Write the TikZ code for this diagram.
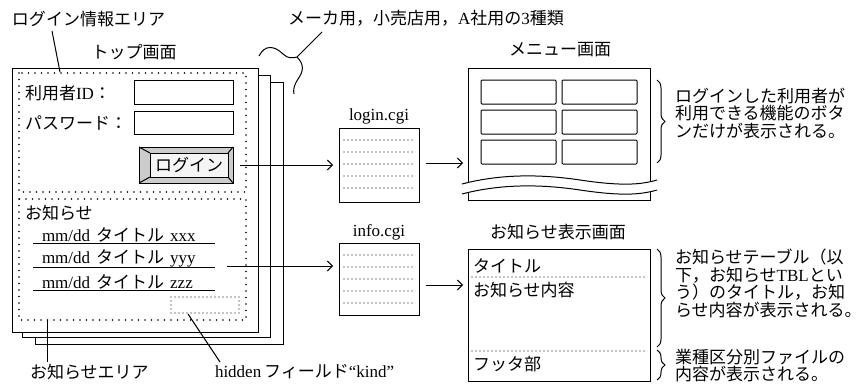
\documentclass[tikz,border=0pt]{standalone}
\usepackage{fontspec}
\setmainfont{Liberation Serif}
\newfontfamily\jpfam{Noto Sans CJK JP}
\usetikzlibrary{arrows.meta,decorations.pathreplacing,calc}
\newcommand\jpf{\fontsize{17}{17.5}\selectfont\jpfam}
\newcommand\latf{\fontsize{17}{17.5}\selectfont\rmfamily}
\begin{document}
\begin{tikzpicture}[x=1pt,y=-1pt,line width=1pt,
  every node/.style={inner sep=0pt,outer sep=0pt},
  jtxt/.style={font=\jpf,anchor=west},
  ctxt/.style={font=\jpf},
  ltxt/.style={font=\latf},
  framebox/.style={draw,line width=1pt,anchor=north west},
  pagebox/.style={framebox,fill=white},
  menubtn/.style={framebox,rounded corners=1pt,minimum width=75pt,minimum height=24pt},
  areadots/.style={line width=1.7pt,line cap=round,dash pattern=on 0pt off 6.5pt},
  finedots/.style={line width=1.4pt,line cap=round,dash pattern=on 0pt off 4pt},
  arr/.style={-{Straight Barb[length=5pt,width=10pt]},line width=1pt},
  bracestyle/.style={decorate,decoration={brace,amplitude=8pt},line width=1pt},
]
\useasboundingbox (0,0) rectangle (861,388);

% ---- stacked top pages
\node[pagebox,minimum width=248pt,minimum height=262pt] (page3) at (35,82) {};
\node[pagebox,minimum width=248pt,minimum height=262pt] (page2) at (22,75) {};
\node[pagebox,minimum width=246pt,minimum height=264pt] (page1) at (12,68) {};

% dotted areas
\draw[areadots] (19,73) rectangle (246,192);
\draw[areadots] (19,199) rectangle (246,320);

% labels top-left
\node[jtxt] (loginarea) at (12,19) {ログイン情報エリア};
\coordinate (loginareaend) at (60,72);
\draw (52,31) -- (loginareaend);
\node[ctxt] (toplabel) at (134,52) {トップ画面};

% login form
\node[jtxt] (uid) at (25,93) {利用者{\latf ID}：};
\node[jtxt] (pwd) at (25,123) {パスワード：};
\node[framebox,minimum width=99pt,minimum height=24pt] (uidbox) at (134,80) {};
\node[framebox,minimum width=99pt,minimum height=23pt] (pwdbox) at (134,111) {};

% login button (bevelled)
\node[framebox,fill=gray!40,minimum width=94pt,minimum height=36pt] (btn) at (139,147) {};
\draw[fill=gray!8] (150,153) rectangle (228,177);
\draw (139,147) -- (150,153) (233,147) -- (228,153) (139,183) -- (150,177) (233,183) -- (228,177);
\node[ctxt] (btntext) at (189,165) {ログイン};

% notices
\node[jtxt] (notice) at (25,213) {お知らせ};
\node[jtxt] (item1) at (42,235) {{\latf mm/dd}\hspace{6pt}タイトル\hspace{6pt}{\latf xxx}};
\node[jtxt] (item2) at (42,258) {{\latf mm/dd}\hspace{6pt}タイトル\hspace{6pt}{\latf yyy}};
\node[jtxt] (item3) at (42,282) {{\latf mm/dd}\hspace{6pt}タイトル\hspace{6pt}{\latf zzz}};
\draw (33,243) -- (215,243);
\draw (33,267) -- (215,267);
\draw (33,290) -- (215,290);
\coordinate (item2end) at (227,266);
\draw[finedots] (171,297) rectangle (239,313);

% bottom labels
\node[jtxt] (noticearea) at (30,372) {お知らせエリア};
\draw (47,320) -- (47,362);
\node[jtxt] (hidden) at (215,372) {{\latf hidden}\,フィールド{\latf “kind”}};
\draw (188,314) -- (220,362);

% three kinds annotation
\node[jtxt] (kinds) at (288,18) {メーカ用，小売店用，{\latf A}社用の{\latf 3}種類};
\draw (322,32) -- (297,57);
\draw (259,56) .. controls (265,44) and (275,46) .. (283,54) .. controls (288,59) and (293,58) .. (297,57);
\draw (297,57) .. controls (305,65) and (303,72) .. (298,79) .. controls (294,85) and (293,90) .. (294,94);

% login.cgi
\node[ltxt] (lcgilabel) at (379,116) {login.cgi};
\node[framebox,minimum width=80pt,minimum height=74pt] (lcgi) at (339,128) {};
\foreach \yy in {140,152,164,176,188} \draw[finedots] (344,\yy) -- (414,\yy);

% info.cgi
\node[ltxt] (icgilabel) at (379,232) {info.cgi};
\node[framebox,minimum width=80pt,minimum height=72pt] (icgi) at (339,243) {};
\foreach \yy in {255,267,279,291,303} \draw[finedots] (344,\yy) -- (414,\yy);

% menu screen
\node[ctxt] (menulabel) at (560,50) {メニュー画面};
\node[anchor=north west,minimum width=182pt,minimum height=132pt] (menu) at (468,68) {};
\draw (468,182) -- (468,68) -- (650,68) -- (650,182);
\draw (462,184) .. controls (500,174) and (540,174) .. (580,180) .. controls (620,186) and (640,185) .. (657,180);
\draw (462,194) .. controls (500,184) and (540,184) .. (580,190) .. controls (620,196) and (640,195) .. (657,190);
\draw (468,192) -- (468,200) -- (650,200) -- (650,191);
\node[menubtn] (m11) at (481,80) {};
\node[menubtn] (m12) at (562,80) {};
\node[menubtn] (m21) at (481,110) {};
\node[menubtn] (m22) at (562,110) {};
\node[menubtn] (m31) at (481,140) {};
\node[menubtn] (m32) at (562,140) {};

% notice display screen
\node[ctxt] (ndlabel) at (558,232) {お知らせ表示画面};
\node[framebox,minimum width=182pt,minimum height=132pt] (nd) at (468,249) {};
\draw[finedots] (472,277) -- (644,277);
\draw[finedots] (472,351) -- (644,351);
\node[jtxt] (ndtitle) at (473,266) {タイトル};
\node[jtxt] (ndbody) at (473,290) {お知らせ内容};
\node[jtxt] (ndfoot) at (473,364) {フッタ部};

% arrows
\draw[arr,shorten <=7pt,shorten >=6pt] (btn.east) -- (btn.east -| lcgi.west);
\coordinate (lcgiout) at (419,163);
\draw[arr,shorten <=7pt,shorten >=5pt] (lcgiout) -- (lcgiout -| menu.west);
\draw[arr,shorten >=6pt] (item2end) -- (item2end -| icgi.west);
\coordinate (icgiout) at (419,285);
\draw[arr,shorten <=7pt,shorten >=5pt] (icgiout) -- (icgiout -| nd.west);

% braces and explanations
\draw[bracestyle] (657,80) -- (657,163);
\node[jtxt,align=left,anchor=north west] (menuexp) at (675,88) {ログインした利用者が\\利用できる機能のボタ\\ンだけが表示される。};
\draw[bracestyle] (657,249) -- (657,347);
\node[jtxt,align=left,anchor=north west] (ndexp) at (675,249) {お知らせテーブル（以\\下，お知らせ{\latf TBL}とい\\う）のタイトル，お知\\らせ内容が表示される。};
\draw[bracestyle] (657,350) -- (657,380);
\node[jtxt,align=left,anchor=north west] (footexp) at (675,349) {業種区分別ファイルの\\内容が表示される。};
\end{tikzpicture}
\end{document}
